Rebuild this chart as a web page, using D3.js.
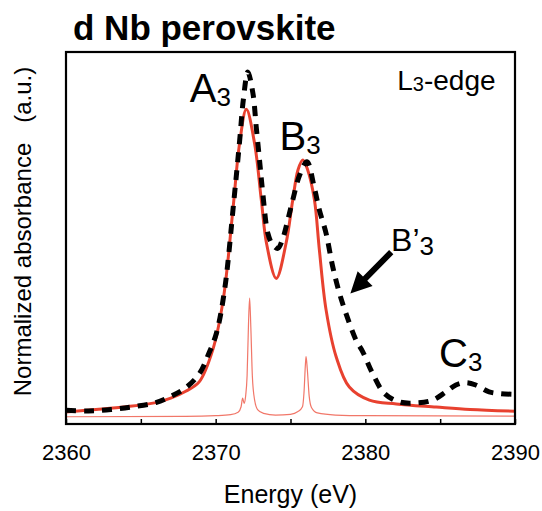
<!DOCTYPE html>
<html>
<head>
<meta charset="utf-8">
<script src="https://cdn.jsdelivr.net/npm/d3@7"></script>
<style>
  body { margin: 0; background: #fff; }
  text { font-family: "Liberation Sans", Arial, Helvetica, sans-serif; }
</style>
</head>
<body>
<div id="chart"></div>
<script>
// plot box, in px
var margin = {top: 52, right: 27, bottom: 87, left: 66},
    width = 542 - margin.left - margin.right,
    height = 511 - margin.top - margin.bottom;

// fitted spectrum (thick red)
var fitE = [2360, 2362, 2364, 2366, 2367, 2368, 2368.9, 2369.8, 2370.5, 2371.15, 2371.6, 2372.05,
            2372.6, 2373.05, 2373.4, 2374.05, 2374.7, 2375.15, 2375.5, 2375.82, 2376.15, 2376.6,
            2376.93, 2377.38, 2378.05, 2378.93, 2380.27, 2382.07, 2384.73, 2387, 2390];
var fitV = [0.015, 0.022, 0.030, 0.042, 0.055, 0.075, 0.102, 0.194, 0.339, 0.60, 0.794, 0.892,
            0.793, 0.629, 0.503, 0.402, 0.503, 0.629, 0.716, 0.745, 0.716, 0.629,
            0.484, 0.31, 0.175, 0.087, 0.049, 0.038, 0.029, 0.022, 0.017];

// measured spectrum (black dashed)
var expE = [2360, 2361.5, 2363, 2364.5, 2366, 2367, 2368, 2368.93, 2369.5, 2370.05, 2370.6, 2371.2,
            2371.6, 2371.85, 2372.15, 2372.49, 2372.71, 2372.93, 2373.15, 2373.49, 2373.8, 2374.15,
            2374.5, 2374.82, 2375.15, 2375.6, 2376.1, 2376.6, 2376.93, 2377.38, 2377.82, 2378.27,
            2378.71, 2379.38, 2379.82, 2380.49, 2381.27, 2382.27, 2383.38, 2384.49, 2385.38,
            2386.05, 2386.71, 2387.38, 2388.27, 2389.05, 2390];
var expV = [0.02, 0.018, 0.022, 0.03, 0.042, 0.06, 0.085, 0.127, 0.18, 0.243, 0.37, 0.62,
            0.80, 0.92, 1.0, 0.938, 0.841, 0.745, 0.648, 0.532, 0.50, 0.489,
            0.52, 0.571, 0.629, 0.70, 0.74, 0.663, 0.60, 0.532, 0.436, 0.359,
            0.30, 0.223, 0.19, 0.126, 0.069, 0.044, 0.041, 0.049, 0.073,
            0.093, 0.1, 0.093, 0.073, 0.068, 0.066];

// calculated transitions (thin red)
var calcE = [2360, 2368, 2370, 2371, 2371.5, 2371.7, 2371.8, 2371.9, 2372.0, 2372.1, 2372.2, 2372.27,
             2372.35, 2372.45, 2372.6, 2372.8, 2373.2, 2374, 2375, 2375.5, 2375.8, 2375.9, 2376.0,
             2376.04, 2376.12, 2376.25, 2376.4, 2376.8, 2378, 2380, 2390];
var calcV = [0.001, 0.002, 0.004, 0.007, 0.014, 0.03, 0.055, 0.04, 0.06, 0.12, 0.28, 0.345,
             0.26, 0.12, 0.05, 0.022, 0.011, 0.006, 0.008, 0.016, 0.03, 0.07, 0.155,
             0.175, 0.14, 0.06, 0.028, 0.012, 0.006, 0.004, 0.003];

var majorTicks = [2360, 2370, 2380, 2390];
var minorTicks = [2365, 2375, 2385];

// peak labels: [text, subscript, energy, value, size]
var labels = [
  ["A", "3", 2368.27, 0.913, 40],
  ["B", "3", 2374.27, 0.774, 40],
  ["B\u2019", "3", 2381.72, 0.482, 32],
  ["C", "3", 2384.93, 0.145, 40]
];
var arrowFrom = [2381.73, 0.478], arrowTo = [2379.0, 0.358];

var svg = d3.select("#chart").append("svg")
    .attr("width", 542)
    .attr("height", 511);

var x = d3.scaleLinear().domain([2360, 2390]).range([0, width]);
var y = d3.scaleLinear().domain([-0.02, 1.058]).range([height, 0]);

var g = svg.append("g")
    .attr("transform", "translate(" + margin.left + "," + margin.top + ")");

g.append("clipPath").attr("id", "clip")
  .append("rect").attr("width", width).attr("height", height);

var plot = g.append("g").attr("clip-path", "url(#clip)");

function pairs(e, v) { return e.map(function(d, i) { return [d, v[i]]; }); }

var smooth = d3.line()
    .x(function(d) { return x(d[0]); })
    .y(function(d) { return y(d[1]); })
    .curve(d3.curveCatmullRom.alpha(0.5));

var sharp = d3.line()
    .x(function(d) { return x(d[0]); })
    .y(function(d) { return y(d[1]); })
    .curve(d3.curveMonotoneX);

plot.append("path")
    .datum(pairs(calcE, calcV))
    .attr("d", sharp)
    .attr("fill", "none")
    .attr("stroke", "#ee5544")
    .attr("stroke-opacity", 0.8)
    .attr("stroke-width", 1.2);

plot.append("path")
    .datum(pairs(fitE, fitV))
    .attr("d", smooth)
    .attr("fill", "none")
    .attr("stroke", "#e8412f")
    .attr("stroke-width", 3);

plot.append("path")
    .datum(pairs(expE, expV))
    .attr("d", smooth)
    .attr("fill", "none")
    .attr("stroke", "#000")
    .attr("stroke-width", 5)
    .attr("stroke-dasharray", "10,8");

// axes, ticks pointing in
var axis = g.append("g")
    .attr("transform", "translate(0," + height + ")")
    .call(d3.axisBottom(x).tickValues(majorTicks).tickFormat(d3.format("d"))
      .tickSize(-5).tickPadding(20.5));
g.append("g")
    .attr("transform", "translate(0," + height + ")")
    .call(d3.axisBottom(x).tickValues(minorTicks).tickFormat("").tickSize(-5))
    .select(".domain").remove();
axis.select(".domain").remove();
g.selectAll(".tick line").attr("stroke", "#000").attr("stroke-width", 1.5);
axis.selectAll(".tick text")
    .attr("font-size", "22px")
    .attr("font-family", "Liberation Sans, Arial, sans-serif")
    .attr("fill", "#000");

g.append("rect")
    .attr("width", width)
    .attr("height", height)
    .attr("fill", "none")
    .attr("stroke", "#000")
    .attr("stroke-width", 2.2);

// arrow for B'3
var p0 = [x(arrowFrom[0]), y(arrowFrom[1])], p1 = [x(arrowTo[0]), y(arrowTo[1])];
var dx = p1[0] - p0[0], dy = p1[1] - p0[1], len = Math.sqrt(dx * dx + dy * dy);
var ux = dx / len, uy = dy / len, nx = -uy, ny = ux;
var headL = 21, headW = 10.5, shaftW = 3;
var bx = p1[0] - ux * headL, by = p1[1] - uy * headL;
g.append("path")
    .attr("d", "M" + (p0[0] + nx * shaftW) + "," + (p0[1] + ny * shaftW) +
      "L" + (bx + nx * shaftW) + "," + (by + ny * shaftW) +
      "L" + (bx + nx * headW) + "," + (by + ny * headW) +
      "L" + p1[0] + "," + p1[1] +
      "L" + (bx - nx * headW) + "," + (by - ny * headW) +
      "L" + (bx - nx * shaftW) + "," + (by - ny * shaftW) +
      "L" + (p0[0] - nx * shaftW) + "," + (p0[1] - ny * shaftW) + "Z")
    .attr("fill", "#000");

// peak labels
labels.forEach(function(l) {
  var t = g.append("text")
      .attr("x", x(l[2]))
      .attr("y", y(l[3]))
      .attr("font-size", l[4] + "px")
      .attr("fill", "#000");
  t.append("tspan").text(l[0]);
  t.append("tspan").attr("font-size", "26px").attr("dy", 4).text(l[1]);
});

var edge = g.append("text")
    .attr("x", x(2382.13))
    .attr("y", y(0.948))
    .attr("font-size", "28px");
edge.append("tspan").text("L");
edge.append("tspan").attr("font-size", "20px").attr("dy", 1).text("3");
edge.append("tspan").attr("dy", -1).text("-edge");

// titles
svg.append("text")
    .attr("x", 73)
    .attr("y", 40)
    .attr("font-size", "35px")
    .attr("font-weight", "bold")
    .text("d Nb perovskite");

svg.append("text")
    .attr("x", margin.left + width / 2)
    .attr("y", 503)
    .attr("text-anchor", "middle")
    .attr("font-size", "25px")
    .text("Energy (eV)");

svg.append("text")
    .attr("transform", "translate(31," + 231.5 + ") rotate(-90)")
    .attr("text-anchor", "middle")
    .attr("font-size", "24px")
    .style("white-space", "pre")
    .text("Normalized absorbance   (a.u.)");
</script>
</body>
</html>
